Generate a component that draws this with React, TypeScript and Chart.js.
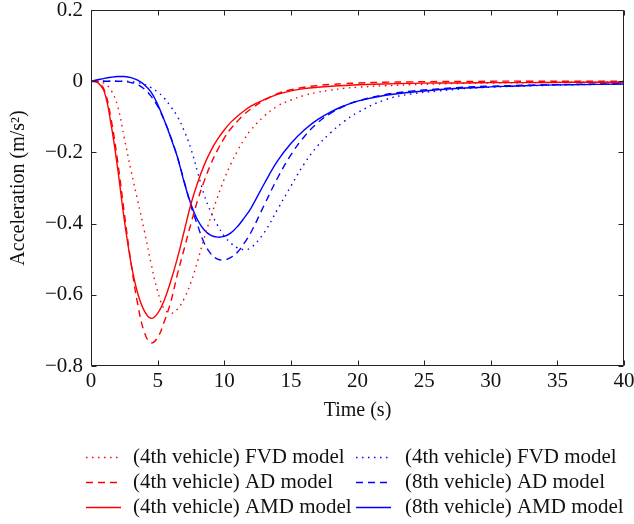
import React, { useEffect, useRef } from "react";
import { Chart, registerables } from "chart.js";

Chart.register(...registerables);

// Time axis (s)
const timeS = [0, 0.5, 1, 1.5, 2, 2.5, 3, 3.5, 4, 4.5, 5, 5.5, 6, 6.5, 7, 7.5, 8, 8.5, 9, 9.5, 10, 10.5, 11, 11.5, 12, 13, 14, 15, 16, 17, 18, 19, 20, 22, 24, 26, 28, 30, 33, 36, 40];

// 4th vehicle
const fvd4 = [0, -0.001, -0.006, -0.025, -0.07, -0.16, -0.25, -0.335, -0.42, -0.51, -0.59, -0.64, -0.652, -0.64, -0.61, -0.565, -0.505, -0.44, -0.38, -0.325, -0.275, -0.232, -0.195, -0.163, -0.137, -0.098, -0.07, -0.053, -0.04, -0.031, -0.025, -0.02, -0.017, -0.013, -0.01, -0.008, -0.006, -0.005, -0.004, -0.003, -0.002];
const ad4 = [0, -0.003, -0.025, -0.105, -0.225, -0.37, -0.51, -0.625, -0.705, -0.735, -0.72, -0.675, -0.618, -0.54, -0.47, -0.4, -0.335, -0.28, -0.232, -0.193, -0.16, -0.133, -0.112, -0.093, -0.078, -0.053, -0.035, -0.024, -0.017, -0.012, -0.009, -0.007, -0.005, -0.003, -0.002, -0.001, -0.001, 0, 0, 0, 0];
const amd4 = [0, -0.004, -0.03, -0.12, -0.245, -0.39, -0.51, -0.595, -0.645, -0.666, -0.652, -0.615, -0.56, -0.495, -0.42, -0.345, -0.285, -0.235, -0.195, -0.163, -0.137, -0.115, -0.098, -0.083, -0.07, -0.052, -0.037, -0.027, -0.021, -0.017, -0.014, -0.012, -0.01, -0.008, -0.006, -0.005, -0.005, -0.004, -0.004, -0.003, -0.003];

// 8th vehicle
const fvd8 = [0, 0, 0, 0, 0, 0, -0.001, -0.004, -0.009, -0.018, -0.03, -0.048, -0.072, -0.1, -0.14, -0.19, -0.255, -0.32, -0.368, -0.405, -0.435, -0.455, -0.468, -0.473, -0.468, -0.425, -0.36, -0.295, -0.232, -0.182, -0.144, -0.113, -0.088, -0.053, -0.036, -0.028, -0.021, -0.017, -0.013, -0.01, -0.008];
const ad8 = [0, 0, 0, 0, 0, -0.001, -0.004, -0.01, -0.022, -0.042, -0.07, -0.11, -0.158, -0.215, -0.282, -0.35, -0.405, -0.455, -0.485, -0.5, -0.502, -0.495, -0.48, -0.455, -0.425, -0.348, -0.272, -0.207, -0.156, -0.117, -0.09, -0.07, -0.056, -0.038, -0.028, -0.022, -0.017, -0.014, -0.011, -0.009, -0.007];
const amd8 = [0, 0.004, 0.008, 0.011, 0.013, 0.013, 0.01, 0.003, -0.01, -0.03, -0.065, -0.11, -0.16, -0.215, -0.285, -0.345, -0.39, -0.418, -0.433, -0.438, -0.436, -0.426, -0.408, -0.384, -0.357, -0.288, -0.224, -0.175, -0.137, -0.108, -0.086, -0.069, -0.056, -0.04, -0.031, -0.024, -0.019, -0.016, -0.012, -0.01, -0.008];

const seriesLabels = [
  "(4th vehicle) FVD model",
  "(4th vehicle) AD model",
  "(4th vehicle) AMD model",
  "(4th vehicle) FVD model",
  "(8th vehicle) AD model",
  "(8th vehicle) AMD model",
];

const xTicks = [0, 5, 10, 15, 20, 25, 30, 35, 40];
const yTicks = [-0.8, -0.6, -0.4, -0.2, 0, 0.2];

const RED = "rgb(255,0,0)";
const BLUE = "rgb(0,0,255)";
const DOT = [1.5, 4.5];
const DASH = [7, 5];
const FONT = "'Liberation Serif', 'Times New Roman', serif";

const toPts = (ys: number[]) => ys.map((y, i) => ({ x: timeS[i], y }));

const framePlugin = {
  id: "frameAndLegend",
  afterDatasetsDraw(chart: any) {
    const { ctx, chartArea: a, scales } = chart;
    const L = Math.round(a.left) + 0.5;
    const R = Math.round(a.right) - 0.5;
    const T = Math.round(a.top) + 0.5;
    const B = Math.round(a.bottom) - 0.5;
    ctx.save();
    ctx.strokeStyle = "#222";
    ctx.lineWidth = 1;
    ctx.setLineDash([]);
    ctx.beginPath();
    ctx.rect(L, T, R - L, B - T);
    xTicks.forEach((v) => {
      const px = Math.round(scales.x.getPixelForValue(v)) + 0.5;
      ctx.moveTo(px, B);
      ctx.lineTo(px, B - 5);
      ctx.moveTo(px, T);
      ctx.lineTo(px, T + 5);
    });
    yTicks.forEach((v) => {
      const py = Math.round(scales.y.getPixelForValue(v)) + 0.5;
      ctx.moveTo(L, py);
      ctx.lineTo(L + 5, py);
      ctx.moveTo(R, py);
      ctx.lineTo(R - 5, py);
    });
    ctx.stroke();
    ctx.restore();
  },
  afterDraw(chart: any) {
    const { ctx } = chart;
    const rows = [457, 482, 507];
    const cols = [
      { x0: 86, x1: 121, tx: 133 },
      { x0: 356, x1: 391, tx: 405 },
    ];
    ctx.save();
    chart.data.datasets.forEach((ds: any, i: number) => {
      const c = cols[Math.floor(i / 3)];
      const y = rows[i % 3] + 0.5;
      ctx.strokeStyle = ds.borderColor;
      ctx.lineWidth = ds.borderWidth;
      ctx.setLineDash(ds.borderDash || []);
      ctx.beginPath();
      ctx.moveTo(c.x0, y);
      ctx.lineTo(c.x1, y);
      ctx.stroke();
      ctx.setLineDash([]);
      ctx.fillStyle = "#111";
      ctx.font = `21px ${FONT}`;
      ctx.textBaseline = "middle";
      ctx.textAlign = "left";
      ctx.fillText(ds.label, c.tx, rows[i % 3]);
    });
    ctx.restore();
  },
};

const fmt = (v: any) => {
  const r = Math.round(Number(v) * 10) / 10;
  return String(r === 0 ? 0 : r).replace("-", "\u2212");
};

export default function App() {
  const ref = useRef<HTMLCanvasElement | null>(null);
  useEffect(() => {
    if (!ref.current) return;
    const mk = (label: string, data: number[], color: string, dash: number[]) => ({
      label,
      data: toPts(data),
      borderColor: color,
      backgroundColor: color,
      borderWidth: 1.4,
      borderDash: dash,
      pointRadius: 0,
      tension: 0.4,
      fill: false,
    });
    const chart = new Chart(ref.current, {
      type: "line",
      data: {
        datasets: [
          mk(seriesLabels[0], fvd4, RED, DOT),
          mk(seriesLabels[1], ad4, RED, DASH),
          mk(seriesLabels[2], amd4, RED, []),
          mk(seriesLabels[3], fvd8, BLUE, DOT),
          mk(seriesLabels[4], ad8, BLUE, DASH),
          mk(seriesLabels[5], amd8, BLUE, []),
        ],
      },
      options: {
        responsive: false,
        animation: false,
        layout: { padding: { left: 0, top: 10, right: 10, bottom: 98 } },
        plugins: { legend: { display: false }, tooltip: { enabled: false } },
        scales: {
          x: {
            type: "linear",
            min: 0,
            max: 40,
            grid: { display: false, drawTicks: false },
            border: { display: false },
            ticks: {
              stepSize: 5,
              padding: 3,
              color: "#111",
              font: { family: FONT, size: 21 },
              maxRotation: 0,
              callback: (v: any) => fmt(v),
            },
            title: {
              display: true,
              text: "Time (s)",
              color: "#111",
              font: { family: FONT, size: 20 },
              padding: { top: 0, bottom: 3 },
            },
            afterFit: (s: any) => {
              s.height = 60;
              s.paddingLeft = 0;
              s.paddingRight = 0;
            },
          },
          y: {
            type: "linear",
            min: -0.8,
            max: 0.2,
            grid: { display: false, drawTicks: false },
            border: { display: false },
            ticks: {
              stepSize: 0.2,
              padding: 8,
              color: "#111",
              font: { family: FONT, size: 21 },
              callback: (v: any) => fmt(v),
            },
            title: {
              display: true,
              text: "Acceleration (m/s\u00B2)",
              color: "#111",
              font: { family: FONT, size: 20 },
              padding: { top: 7, bottom: 0 },
            },
            afterFit: (s: any) => {
              s.width = 91;
              s.paddingTop = 0;
              s.paddingBottom = 0;
            },
          },
        },
      },
      plugins: [framePlugin],
    });
    return () => chart.destroy();
  }, []);
  return (
    <div style={{ position: "absolute", left: 0, top: 0, width: 634, height: 524 }}>
      <canvas ref={ref} width={634} height={524} />
    </div>
  );
}
